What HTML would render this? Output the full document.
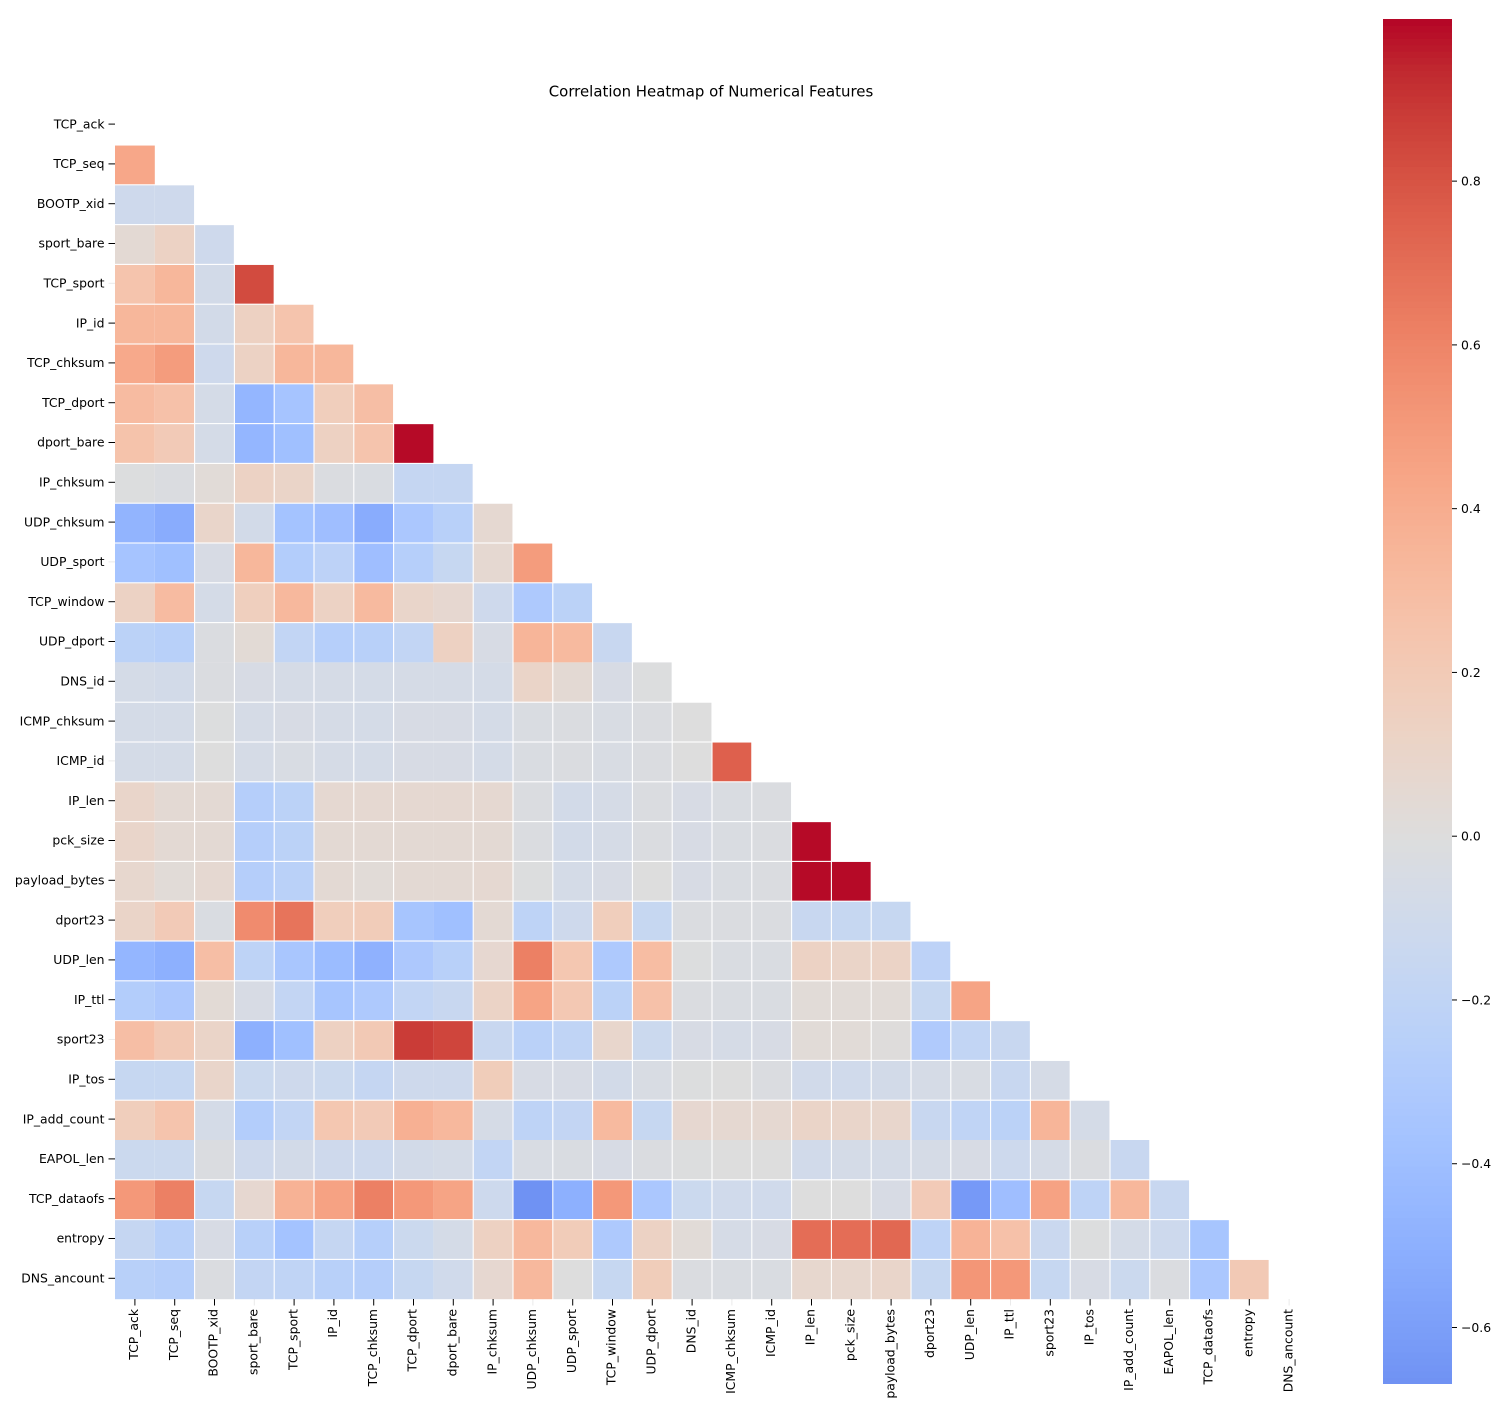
<!DOCTYPE html>
<html lang="en">
<head>
<meta charset="utf-8">
<title>Correlation Heatmap of Numerical Features</title>
<style>
html,body{margin:0;padding:0;background:#fff;width:1509px;height:1417px;overflow:hidden}
svg{display:block}
text{font-family:"DejaVu Sans","Liberation Sans",sans-serif;fill:#000}
</style>
</head>
<body>
<svg id="chart" xmlns="http://www.w3.org/2000/svg" width="1509" height="1417" viewBox="0 0 1509 1417">
  <text x="711" y="96.5" text-anchor="middle" font-size="14.93">Correlation Heatmap of Numerical Features</text>
</svg>
<script>
const features = ["TCP_ack","TCP_seq","BOOTP_xid","sport_bare","TCP_sport","IP_id","TCP_chksum","TCP_dport","dport_bare","IP_chksum","UDP_chksum","UDP_sport","TCP_window","UDP_dport","DNS_id","ICMP_chksum","ICMP_id","IP_len","pck_size","payload_bytes","dport23","UDP_len","IP_ttl","sport23","IP_tos","IP_add_count","EAPOL_len","TCP_dataofs","entropy","DNS_ancount"];

// Lower-triangle correlations, one row per feature (row i has i values).
const correlations = [
[],
[.43],
[-.11,-.11],
[.05,.13,-.11],
[.25,.34,-.08,.83],
[.34,.34,-.08,.14,.25],
[.42,.49,-.11,.13,.34,.34],
[.31,.27,-.07,-.46,-.36,.17,.29],
[.26,.2,-.07,-.46,-.39,.14,.25,.99],
[-.01,-.02,.03,.13,.11,-.02,-.03,-.17,-.17],
[-.47,-.52,.1,-.08,-.37,-.4,-.52,-.33,-.25,.06],
[-.36,-.39,-.05,.34,-.28,-.22,-.4,-.26,-.16,.06,.49],
[.13,.31,-.07,.16,.33,.13,.32,.1,.07,-.11,-.31,-.23],
[-.23,-.25,-.02,.04,-.19,-.26,-.25,-.19,.14,-.05,.35,.32,-.15],
[-.07,-.08,-.02,-.05,-.06,-.06,-.07,-.06,-.06,-.07,.11,.05,-.05,-.01],
[-.07,-.07,-.01,-.06,-.05,-.06,-.07,-.05,-.05,-.07,-.03,-.02,-.04,-.02,0],
[-.07,-.07,0,-.06,-.04,-.06,-.07,-.05,-.05,-.07,-.03,-.02,-.04,-.02,0,.75],
[.1,.05,.05,-.27,-.23,.06,.06,.06,.06,.06,-.02,-.08,-.06,-.02,-.05,-.03,-.02],
[.1,.05,.05,-.27,-.23,.05,.05,.05,.05,.05,-.02,-.08,-.06,-.02,-.05,-.03,-.02,.99],
[.08,.03,.06,-.27,-.24,.05,.03,.05,.05,.06,-.01,-.07,-.05,0,-.05,-.03,-.02,.99,.99],
[.11,.2,-.03,.57,.67,.17,.19,-.35,-.39,.05,-.21,-.11,.17,-.16,-.02,-.02,-.02,-.15,-.16,-.16],
[-.46,-.5,.29,-.21,-.34,-.42,-.49,-.32,-.25,.07,.62,.23,-.31,.3,-.01,-.03,-.03,.13,.11,.12,-.22],
[-.28,-.32,.04,-.05,-.18,-.35,-.31,-.19,-.15,.12,.45,.22,-.23,.27,-.02,-.03,-.03,.03,.03,.03,-.16,.45],
[.29,.21,.11,-.5,-.39,.14,.21,.88,.85,-.15,-.24,-.2,.09,-.13,-.05,-.06,-.05,.03,.03,.01,-.3,-.19,-.15],
[-.16,-.16,.1,-.13,-.11,-.13,-.17,-.11,-.11,.18,-.05,-.05,-.08,-.04,-.01,0,-.02,-.09,-.1,-.08,-.06,-.04,-.15,-.06],
[.17,.25,-.07,-.28,-.19,.23,.2,.38,.33,-.06,-.21,-.18,.32,-.16,.07,.06,.06,.11,.1,.09,-.15,-.2,-.23,.35,-.07],
[-.13,-.13,-.02,-.11,-.08,-.11,-.12,-.08,-.07,-.19,-.04,-.03,-.05,-.02,-.01,0,0,-.09,-.07,-.07,-.06,-.05,-.12,-.06,-.02,-.15],
[.51,.62,-.16,.07,.37,.46,.62,.51,.45,-.12,-.669,-.5,.51,-.33,-.13,-.1,-.1,0,0,-.05,.2,-.63,-.4,.46,-.21,.34,-.15],
[-.17,-.25,-.05,-.25,-.37,-.17,-.26,-.13,-.07,.14,.33,.19,-.31,.13,.03,-.06,-.05,.7,.7,.72,-.21,.36,.27,-.14,-.01,-.07,-.12,-.35],
[-.25,-.27,-.02,-.18,-.2,-.25,-.27,-.16,-.1,.07,.33,0,-.16,.18,-.02,-.03,-.03,.08,.08,.1,-.16,.52,.51,-.16,-.05,-.13,-.02,-.33,.21]
];

const colorbarTicks = [0.8,0.6,0.4,0.2,0,-0.2,-0.4,-0.6];
const colorbarMin = -0.669;
const colorbarMax = 0.998;

const coolwarmStops = [[59,76,192],[68,90,204],[77,104,215],[87,117,225],[98,130,234],[108,142,241],[119,154,247],[130,165,251],[141,176,254],[152,185,255],[163,194,255],[174,201,253],[184,208,249],[194,213,244],[204,217,238],[213,219,230],[221,221,221],[229,216,209],[236,211,197],[241,204,185],[245,196,173],[247,187,160],[247,177,148],[247,166,135],[244,154,123],[241,141,111],[236,127,99],[229,112,88],[222,96,77],[213,80,66],[203,62,56],[192,40,47],[180,4,38]];

function colorFor(v){
  const t = Math.max(0, Math.min(1, (v + 1) / 2)) * (coolwarmStops.length - 1);
  const i = Math.min(coolwarmStops.length - 2, Math.floor(t));
  const f = t - i;
  const a = coolwarmStops[i], b = coolwarmStops[i + 1];
  return "rgb(" + [0,1,2].map(k => Math.round(a[k] + (b[k] - a[k]) * f)).join(",") + ")";
}

const SVGNS = "http://www.w3.org/2000/svg";
const svg = document.getElementById("chart");
function make(tag, attrs, parent){
  const el = document.createElementNS(SVGNS, tag);
  for (const k in attrs) el.setAttribute(k, attrs[k]);
  (parent || svg).appendChild(el);
  return el;
}

// Heatmap axis functions
const plotLeft = 115, plotTop = 105.2, pitch = 39.8;
const xEdge = c => plotLeft + pitch * c;
const yEdge = r => plotTop + pitch * r;
const count = features.length;
// Grid boundaries and ticks that nearly vanished when the source image was downscaled
const faintColumnLines = [1, 8];
const faintRowLines = [14, 26];
const faintXTicks = [3, 10, 15, 22, 29];
const faintYTicks = [4, 11, 16, 23];
const halfGap = 0.55;

const cellsGroup = make("g", {});


correlations.forEach((row, r) => {
  row.forEach((value, c) => {
    const l = xEdge(c) + ((c === 0 || faintColumnLines.includes(c)) ? 0 : halfGap);
    const rr = xEdge(c + 1) - (faintColumnLines.includes(c + 1) ? 0 : halfGap);
    const t = yEdge(r) + (faintRowLines.includes(r) ? 0 : halfGap);
    const b = yEdge(r + 1) - ((r + 1 === count || faintRowLines.includes(r + 1)) ? 0 : halfGap);
    const cell = make("rect", {x:l, y:t, width:rr - l, height:b - t, fill:colorFor(value)}, cellsGroup);
    
    
  });
});

// Y axis
const yAxis = make("g", {});


features.forEach((name, i) => {
  const y = yEdge(i + 0.5) - 1;
  const tick = make("line", {x1:108.5, x2:115, y1:y, y2:y, stroke:"#000", "stroke-width":1, opacity:faintYTicks.includes(i) ? 0.08 : 1}, yAxis);
  
  
  const label = make("text", {x:104.5, y:y + 4.2, "text-anchor":"end", "font-size":12.4}, yAxis);
  label.textContent = name;
  
  
});

// X axis
const xAxis = make("g", {});


features.forEach((name, i) => {
  const x = xEdge(i + 0.5);
  const tick = make("line", {x1:x, x2:x, y1:1299, y2:1305.5, stroke:"#000", "stroke-width":1, opacity:faintXTicks.includes(i) ? 0.08 : 1}, xAxis);
  
  
  const label = make("text", {transform:"translate(" + (x + 3.2) + ",1309) rotate(-90)", "text-anchor":"end", "font-size":12.4}, xAxis);
  label.textContent = name;
  
  
});

// Colorbar
const cbLeft = 1383, cbRight = 1452, cbTop = 19, cbBottom = 1384;
const cbY = v => cbBottom - (v - colorbarMin) / (colorbarMax - colorbarMin) * (cbBottom - cbTop);
const colorbar = make("g", {});


const bandCount = 213;
for (let i = 0; i < bandCount; i++) {
  const v0 = colorbarMin + (colorbarMax - colorbarMin) * i / bandCount;
  const v1 = colorbarMin + (colorbarMax - colorbarMin) * (i + 1) / bandCount;
  const top = cbY(v1);
  const band = make("rect", {x:cbLeft, y:top, width:cbRight - cbLeft, height:cbY(v0) - top + (i ? 0.6 : 0), fill:colorFor((v0 + v1) / 2)}, colorbar);
  
  
}
colorbarTicks.forEach(v => {
  const y = cbY(v);
  const tick = make("line", {x1:cbRight, x2:cbRight + 5, y1:y, y2:y, stroke:"#000", "stroke-width":1}, colorbar);
  
  
  const label = make("text", {x:1461, y:y + 4.4, "font-size":12.4}, colorbar);
  label.textContent = (v < 0 ? "\u2212" : "") + Math.abs(v).toFixed(1);
  
  
});
</script>
</body>
</html>
